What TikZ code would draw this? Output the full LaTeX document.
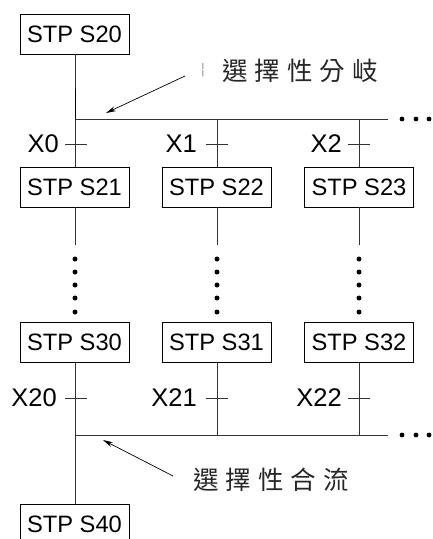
\documentclass[tikz,border=0pt]{standalone}
\usepackage{fontspec}
\setmainfont{Liberation Sans}
\newfontfamily\cjk{Noto Sans CJK TC}
\usetikzlibrary{arrows.meta}
\newcommand{\cjkspaced}[5]{{\cjk #1\hspace{7pt}#2\hspace{7pt}#3\hspace{7pt}#4\hspace{7pt}#5}}
\begin{document}
\begin{tikzpicture}[x=1pt,y=-1pt,
  stpbox/.style={draw, line width=0.8pt, minimum width=109pt, minimum height=40pt, inner sep=0pt,
    font=\fontsize{23.7}{28}\selectfont},
  lbl/.style={anchor=east, inner sep=0pt, font=\fontsize{25.5}{28}\selectfont},
  cjklbl/.style={anchor=west, inner sep=0pt, font=\fontsize{25.5}{28}\selectfont, text=black!85},
  wire/.style={line width=0.8pt, black!80},
  dotfill/.style={fill=black},
  pointer/.style={line width=0.7pt, -{Stealth[length=10pt,width=5pt]}}]
\useasboundingbox (0,0) rectangle (433,539);
\clip (0,0) rectangle (433,539);
% boxes
\node[stpbox] (s20) at (74.5,34) {STP S20};
\node[stpbox] (s21) at (74.5,187) {STP S21};
\node[stpbox] (s22) at (216.5,187) {STP S22};
\node[stpbox] (s23) at (359,187) {STP S23};
\node[stpbox] (s30) at (74.5,342.5) {STP S30};
\node[stpbox] (s31) at (216.5,342.5) {STP S31};
\node[stpbox] (s32) at (359,342.5) {STP S32};
\node[stpbox] (s40) at (74.5,524.5) {STP S40};
% coordinates
\coordinate (d1) at (75,119);
\coordinate (d2) at (217,119);
\coordinate (d3) at (359,119);
\coordinate (dend) at (388,119);
\coordinate (m1) at (75,435);
\coordinate (m2) at (217,435);
\coordinate (m3) at (359,435);
\coordinate (mend) at (388,435);
% divergence
\draw[wire] (s20.south -| d1) -- (s21.north -| d1);
\draw[line width=1.0pt, black] (75,89) -- (d1);
\draw[wire] (d1) -- (dend);
\draw[wire] (d2) -- (s22.north -| d2);
\draw[wire] (d3) -- (s23.north -| d3);
% ticks top
\draw[wire] (65,144) -- (87,144);
\draw[wire] (206,144) -- (228,144);
\draw[wire] (348,144) -- (370,144);
\node[lbl] (x0) at (59,144) {X0};
\node[lbl] (x1) at (197,144) {X1};
\node[lbl] (x2) at (342,144) {X2};
% lines below row 1
\foreach \c/\b in {75/s21,217/s22,359/s23}{
  \draw[wire] (\b.south -| \c,0) -- (\c,245);
  \foreach \yy in {259,272,285,298,312} \fill[dotfill] (\c,\yy) circle (2.5pt);
}
% convergence
\draw[wire] (s30.south -| m1) -- (s40.north -| m1);
\draw[wire] (s31.south -| m2) -- (m2);
\draw[wire] (s32.south -| m3) -- (m3);
\draw[wire] (m1) -- (mend);
\draw[wire] (65,398) -- (87,398);
\draw[wire] (206,398) -- (228,398);
\draw[wire] (348,398) -- (370,398);
\node[lbl] (x20) at (57,398) {X20};
\node[lbl] (x21) at (197,398) {X21};
\node[lbl] (x22) at (342,398) {X22};
% ellipsis dots
\foreach \xx in {402,416,429}{
  \fill[dotfill] (\xx,119) circle (2.4pt);
  \fill[dotfill] (\xx,435) circle (2.4pt);
}
% labels and pointers
\node[cjklbl] (divlbl) at (222,70.5) {\cjkspaced{選}{擇}{性}{分}{岐}};
\node[inner sep=0pt, font=\fontsize{12}{14}\selectfont, text=black!60] (brk) at (203,70) {\cjk ¦};
\coordinate (divtail) at (185,76);
\coordinate (divhead) at (106,113);
\draw[pointer] (divtail) -- (divhead);
\node[cjklbl] (conlbl) at (193,480) {\cjkspaced{選}{擇}{性}{合}{流}};
\coordinate (contail) at (173,476);
\coordinate (conhead) at (103,440);
\draw[pointer] (contail) -- (conhead);
\end{tikzpicture}
\end{document}
